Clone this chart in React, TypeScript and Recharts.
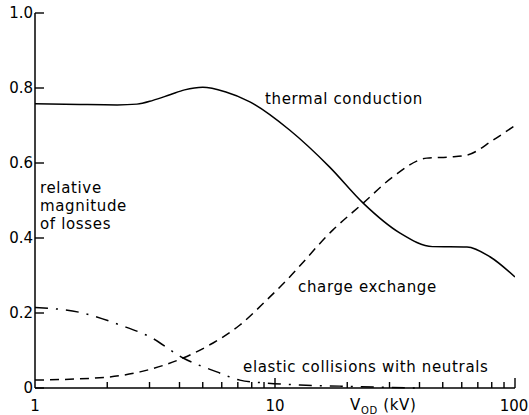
import React from 'react';
import { LineChart, Line, XAxis, YAxis } from 'recharts';

// thermal conduction (solid)
const thermalX = [1, 1.54, 2.2, 2.66, 3.1, 3.65, 4.2, 5.0, 6.2, 7.86, 11.5, 16.9, 23.3, 33.2, 45.3, 63.1, 78.6, 100];
const thermalY = [0.758, 0.756, 0.755, 0.757, 0.767, 0.782, 0.795, 0.802, 0.79, 0.763, 0.688, 0.589, 0.493, 0.413, 0.377, 0.376, 0.35, 0.296];

// charge exchange (dashed)
const chargeX = [1, 2.0, 2.74, 4.14, 5.52, 7.14, 9.25, 11.2, 17.4, 23.3, 31, 42.9, 53.5, 63.1, 81, 100];
const chargeY = [0.021, 0.029, 0.043, 0.08, 0.12, 0.168, 0.235, 0.288, 0.421, 0.493, 0.563, 0.613, 0.616, 0.621, 0.661, 0.7];

// elastic collisions with neutrals (dash-dot)
const elasticX = [1, 1.58, 2.26, 3.02, 4.14, 5.72, 7.14, 9.25, 12.7, 18.6, 27.4, 40];
const elasticY = [0.215, 0.2, 0.168, 0.136, 0.08, 0.043, 0.021, 0.013, 0.008, 0.005, 0.002, 0.0];

const xTicks = [1, 2, 3, 4, 5, 6, 7, 8, 9, 10, 20, 30, 40, 50, 60, 70, 80, 90, 100];
const xMajorLabels: Record<number, string> = { 1: '1', 10: '10', 100: '100' };
const yTicks = [0, 0.2, 0.4, 0.6, 0.8, 1.0];
const yTickLabels = ['0', '0.2', '0.4', '0.6', '0.8', '1.0'];

const toPts = (xs: number[], ys: number[]) => xs.map((x, i) => ({ x, y: ys[i] }));
const thermal = toPts(thermalX, thermalY);
const charge = toPts(chargeX, chargeY);
const elastic = toPts(elasticX, elasticY);

const FONT = '"DejaVu Sans", sans-serif';
const FS = 15;
const LS = 0.65;

const XTick = (props: any) => {
  const { x, y, payload } = props;
  const v = payload.value;
  const label = xMajorLabels[v];
  const major = label !== undefined;
  return (
    <g>
      {v !== 1 && (
        <line x1={x} x2={x} y1={y} y2={y - (major ? 10 : 6)} stroke="#000" strokeWidth={1.4} />
      )}
      {major && (
        <text x={v === 100 ? x - 1 : x} y={y + 23} textAnchor="middle" fontFamily={FONT} fontSize={FS} fill="#000">
          {label}
        </text>
      )}
    </g>
  );
};

const YTick = (props: any) => {
  const { x, y, payload, index } = props;
  return (
    <g>
      <line x1={x} x2={x + 9} y1={y} y2={y} stroke="#000" strokeWidth={1.4} />
      <text x={x - 2} y={y + 5} textAnchor="end" fontFamily={FONT} fontSize={FS} fill="#000">
        {yTickLabels[index] ?? String(payload.value)}
      </text>
    </g>
  );
};

export default function App() {
  const t = { fontFamily: FONT, fontSize: FS, fill: '#000', letterSpacing: LS } as any;
  return (
    <div style={{ position: 'absolute', left: 0, top: 0, width: 529, height: 415, background: '#fff' }}>
      <LineChart width={529} height={415} margin={{ top: 13, right: 14, left: 0, bottom: 0 }}>
        <XAxis
          dataKey="x"
          type="number"
          scale="log"
          domain={[1, 100]}
          allowDataOverflow
          ticks={xTicks}
          interval={0}
          tickSize={0}
          tickMargin={0}
          tickLine={false}
          tick={<XTick />}
          axisLine={{ stroke: '#000', strokeWidth: 1.5 }}
          height={27}
        />
        <YAxis
          dataKey="y"
          type="number"
          domain={[0, 1]}
          ticks={yTicks}
          interval={0}
          tickSize={0}
          tickMargin={0}
          tickLine={false}
          tick={<YTick />}
          axisLine={{ stroke: '#000', strokeWidth: 1.5 }}
          width={35}
        />
        <Line data={thermal} dataKey="y" type="monotone" stroke="#000" strokeWidth={1.5} dot={false} isAnimationActive={false} />
        <Line data={charge} dataKey="y" type="monotone" stroke="#000" strokeWidth={1.5} strokeDasharray="9 6" dot={false} isAnimationActive={false} />
        <Line data={elastic} dataKey="y" type="monotone" stroke="#000" strokeWidth={1.5} strokeDasharray="13 8 2 8" dot={false} isAnimationActive={false} />
        <text x={265} y={104} {...t}>thermal conduction</text>
        <text x={298} y={292} {...t}>charge exchange</text>
        <text x={243} y={372} {...t}>elastic collisions with neutrals</text>
        <text x={40} y={193} {...t}>relative</text>
        <text x={40} y={211} {...t}>magnitude</text>
        <text x={40} y={229} {...t}>of losses</text>
        <text x={350} y={410} {...t}>
          V<tspan fontSize={10} dy={4}>OD</tspan>
          <tspan dy={-4}> (kV)</tspan>
        </text>
      </LineChart>
    </div>
  );
}
